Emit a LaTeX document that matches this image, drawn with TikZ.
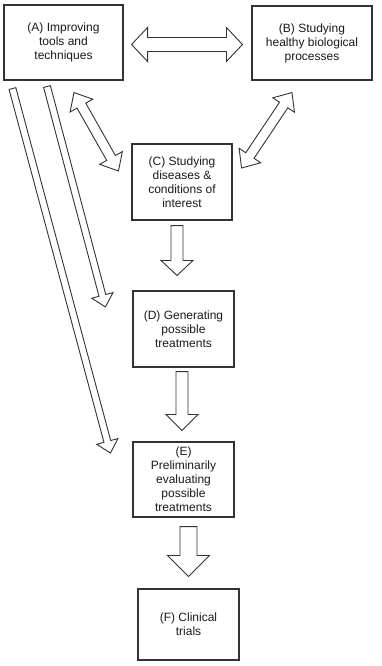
\documentclass[tikz,border=0pt]{standalone}
\usepackage{fontspec}
\setmainfont{Liberation Sans}
\usepackage{tikz}
\usetikzlibrary{calc}

\definecolor{linegray}{RGB}{51,51,51}

\tikzset{
  box/.style={draw=linegray, line width=1.1pt, inner sep=0pt, align=center,
    text=black!90, font=\fontsize{12}{14}\selectfont},
  % hollow arrow, one head: shaft half width / head half width / head length
  hollow/.style args={#1/#2/#3}{draw=linegray, line width=0.9pt, fill=white,
    to path={let \p1=($(\tikztotarget)!#3!(\tikztostart)$) in
      -- ($(\tikztostart)!#1!90:(\tikztotarget)$)
      -- ($(\p1)!#1!90:(\tikztotarget)$)
      -- ($(\p1)!#2!90:(\tikztotarget)$)
      -- (\tikztotarget)
      -- ($(\p1)!#2!-90:(\tikztotarget)$)
      -- ($(\p1)!#1!-90:(\tikztotarget)$)
      -- ($(\tikztostart)!#1!-90:(\tikztotarget)$)
      -- cycle}},
  % hollow arrow, two heads
  hollowboth/.style args={#1/#2/#3}{draw=linegray, line width=0.9pt, fill=white,
    to path={let \p1=($(\tikztostart)!#3!(\tikztotarget)$),
                 \p2=($(\tikztotarget)!#3!(\tikztostart)$) in
      -- ($(\p1)!#2!90:(\tikztotarget)$)
      -- ($(\p1)!#1!90:(\tikztotarget)$)
      -- ($(\p2)!#1!90:(\tikztotarget)$)
      -- ($(\p2)!#2!90:(\tikztotarget)$)
      -- (\tikztotarget)
      -- ($(\p2)!#2!-90:(\tikztotarget)$)
      -- ($(\p2)!#1!-90:(\tikztotarget)$)
      -- ($(\p1)!#1!-90:(\tikztotarget)$)
      -- ($(\p1)!#2!-90:(\tikztotarget)$)
      -- cycle}}
}

\begin{document}
\begin{tikzpicture}[x=1pt, y=-1pt]
    \useasboundingbox (0,0) rectangle (381,666);

    % Boxes
    \node[box, minimum width=119pt, minimum height=75pt] (A) at (63.5,42.5)
        {(A) Improving\\tools and\\techniques};
    \node[box, minimum width=120pt, minimum height=74pt] (B) at (312,43)
        {(B) Studying\\healthy biological\\processes};
    \node[box, minimum width=100pt, minimum height=76pt] (C) at (182,182)
        {(C) Studying\\diseases \&\\conditions of\\interest};
    \node[box, minimum width=101pt, minimum height=76pt] (D) at (183.5,329)
        {(D) Generating\\possible\\treatments};
    \node[box, minimum width=101pt, minimum height=75pt] (E) at (183.5,479.5)
        {(E)\\Preliminarily\\evaluating\\possible\\treatments};
    \node[box, minimum width=101pt, minimum height=71pt] (F) at (188.5,624.5)
        {(F) Clinical\\trials};

    % Two-way arrows between A, B and C
    \draw[hollowboth=7pt/17pt/16pt] ($(A.east)+(8,2)$) to ($(B.west)+(-9,1.5)$);
    \draw[hollowboth=5pt/13pt/15pt] ($(A.south)+(10.5,12)$) to ($(C.west)+(-13,-11)$);
    \draw[hollowboth=5pt/13pt/15pt] ($(B.south)+(-20,12)$) to ($(C.east)+(9,-14)$);

    % Down the chain
    \draw[hollow=6pt/16pt/15pt] ($(C.south)+(-5,5)$) to ($(D.north)+(-6.5,-15)$);
    \draw[hollow=6pt/16pt/16pt] ($(D.south)+(-1.5,4)$) to ($(E.north)+(-1.5,-11)$);
    \draw[hollow=8.5pt/21pt/21pt] ($(E.south)+(5,9)$) to ($(F.north)+(0,-12)$);

    % Long arrows from A
    \draw[hollow=3.5pt/11pt/12pt] ($(A.south west)+(9,8)$) to ($(E.west)+(-22,-26.5)$);
    \draw[hollow=3.5pt/11pt/12pt] ($(A.south)+(-16.5,6)$) to ($(D.west)+(-27,-22)$);
\end{tikzpicture}
\end{document}
